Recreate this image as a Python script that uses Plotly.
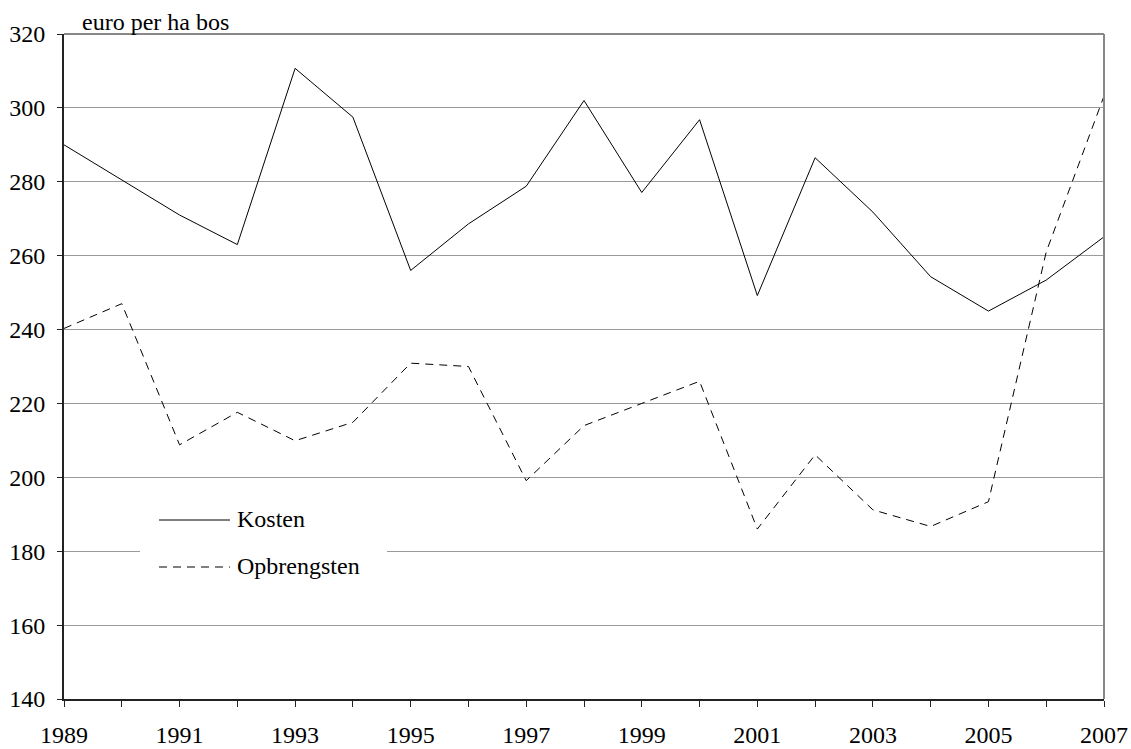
import plotly.graph_objects as go

years = list(range(1989, 2008))
kosten = [290, 280.5, 271, 263, 310.7, 297.5, 256, 268.6, 278.8, 302, 277.1, 296.8,
          249.2, 286.5, 271.8, 254.3, 245, 253.4, 265.1]
opbrengsten = [240.3, 247, 208.8, 217.6, 209.9, 214.9, 230.9, 230, 199.1, 214, 220, 226,
               186, 206.1, 191.2, 186.7, 193.4, 261, 303.2]
y_ticks = list(range(140, 321, 20))
x_tick_labels = [str(y) if (y - 1989) % 2 == 0 else "" for y in years]

FONT = "'Liberation Serif', 'Times New Roman', 'DejaVu Serif', serif"
FS = 24
L, R, T, B = 64, 27, 34, 50
W, H = 1131, 749
PW, PH = W - L - R, H - T - B

def px(x):
    return (x - L) / PW

def py(y):
    return (H - B - y) / PH

fig = go.Figure()
fig.add_trace(go.Scatter(x=years, y=kosten, mode="lines", name="Kosten",
                         line=dict(color="black", width=1), showlegend=False))
fig.add_trace(go.Scatter(x=years, y=opbrengsten, mode="lines", name="Opbrengsten",
                         line=dict(color="black", width=1, dash="8px,6px"), showlegend=False))

shapes = [
    dict(type="line", xref="paper", yref="paper", x0=0, x1=1, y0=1, y1=1,
         line=dict(color="#888888", width=2), layer="above"),
    dict(type="line", xref="paper", yref="paper", x0=1, x1=1, y0=0, y1=1,
         line=dict(color="#888888", width=2), layer="above"),
    dict(type="rect", xref="paper", yref="paper", x0=px(140), x1=px(387), y0=py(585), y1=py(500),
         fillcolor="white", line=dict(width=0), layer="above"),
    dict(type="line", xref="paper", yref="paper", x0=px(159), x1=px(230), y0=py(520), y1=py(520),
         line=dict(color="black", width=1), layer="above"),
    dict(type="line", xref="paper", yref="paper", x0=px(159), x1=px(230), y0=py(567), y1=py(567),
         line=dict(color="black", width=1, dash="8px,6px"), layer="above"),
]

annotations = [
    dict(text="euro per ha bos", xref="paper", yref="paper", x=px(80), y=py(22),
         xanchor="left", yanchor="middle", showarrow=False, font=dict(family=FONT, size=FS, color="black")),
    dict(text="Kosten", xref="paper", yref="paper", x=px(235), y=py(519),
         xanchor="left", yanchor="middle", showarrow=False, font=dict(family=FONT, size=FS, color="black")),
    dict(text="Opbrengsten", xref="paper", yref="paper", x=px(235), y=py(566),
         xanchor="left", yanchor="middle", showarrow=False, font=dict(family=FONT, size=FS, color="black")),
]

fig.update_layout(
    width=W, height=H,
    margin=dict(l=L, r=R, t=T, b=B, pad=0, autoexpand=False),
    paper_bgcolor="white", plot_bgcolor="white",
    font=dict(family=FONT, size=FS, color="black"),
    shapes=shapes, annotations=annotations,
    xaxis=dict(range=[1989, 2007], tickmode="array", tickvals=years, ticktext=x_tick_labels,
               automargin=False,
               showgrid=False, zeroline=False, showline=True, linecolor="#222222", linewidth=2,
               ticks="outside", ticklen=6, tickcolor="#222222", tickwidth=1,
               tickfont=dict(family=FONT, size=FS, color="black"), ticklabelstandoff=7),
    yaxis=dict(range=[140, 320], tickmode="array", tickvals=y_ticks, automargin=False,
               showgrid=True, gridcolor="#9a9a9a", gridwidth=1, zeroline=False,
               showline=True, linecolor="#222222", linewidth=2,
               ticks="outside", ticklen=5, tickcolor="#222222", tickwidth=1,
               tickfont=dict(family=FONT, size=FS, color="black"), ticklabelstandoff=7),
    showlegend=False,
)

fig.write_html("out.html", config={"displayModeBar": False},
               post_script="document.body.style.margin='0';document.body.style.padding='0';")
